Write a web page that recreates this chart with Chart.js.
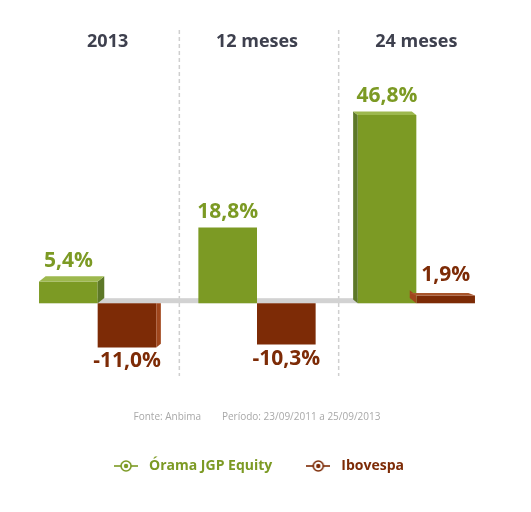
<!DOCTYPE html>
<html>
<head>
<meta charset="utf-8">
<script src="https://cdn.jsdelivr.net/npm/chart.js@4.4.0/dist/chart.umd.min.js"></script>
<style>
html,body{margin:0;padding:0;background:#ffffff;}
#wrap{width:531px;height:512px;position:relative;}
</style>
</head>
<body>
<div id="wrap"><canvas id="c" width="531" height="512"></canvas></div>
<script>
// ---- data ----
const categories = ['2013', '12 meses', '24 meses'];
const seriesNames = ['Órama JGP Equity', 'Ibovespa'];
const oramaValues = [5.4, 18.8, 46.8];
const ibovespaValues = [-11.0, -10.3, 1.9];
const sourceText = 'Fonte: Anbima        Período: 23/09/2011 a 25/09/2013';

// ---- styles ----
const COLORS = [
  {front: '#7c9a24', top: '#9db84e', side: '#5d7828'},
  {front: '#7d2b06', top: '#a9552b', side: '#a0461c'}
];
const FONT = '"Open Sans", "Noto Sans", sans-serif';

function legendSymbol(color) {
  const c = document.createElement('canvas');
  c.width = 24; c.height = 14;
  const g = c.getContext('2d');
  g.strokeStyle = color; g.lineWidth = 1.6;
  g.beginPath(); g.moveTo(0, 7); g.lineTo(24, 7); g.stroke();
  g.fillStyle = '#ffffff';
  g.beginPath(); g.arc(12, 7, 5, 0, Math.PI * 2); g.fill(); g.stroke();
  g.fillStyle = color;
  g.beginPath(); g.arc(12, 7, 2.2, 0, Math.PI * 2); g.fill();
  return c;
}
const symbols = [legendSymbol(COLORS[0].front), legendSymbol(COLORS[1].front)];

function fmt(v) { return v.toFixed(1).replace('.', ',') + '%'; }

const decorPlugin = {
  id: 'decor',
  beforeDatasetsDraw(chart) {
    const ctx = chart.ctx;
    const xs = chart.scales.x;
    const y0 = chart.scales.y.getPixelForValue(0);
    // dashed separators between categories
    ctx.save();
    ctx.strokeStyle = '#cfcfcf';
    ctx.lineWidth = 1.5;
    ctx.setLineDash([4, 3]);
    for (let i = 0; i < categories.length - 1; i++) {
      const x = (xs.getPixelForValue(i) + xs.getPixelForValue(i + 1)) / 2 + 2;
      ctx.beginPath(); ctx.moveTo(x, 30); ctx.lineTo(x, 376); ctx.stroke();
    }
    ctx.restore();
    // category headings
    ctx.save();
    ctx.fillStyle = '#3e404e';
    ctx.font = 'bold 18px ' + FONT;
    ctx.textAlign = 'center'; ctx.textBaseline = 'middle';
    categories.forEach((c, i) => ctx.fillText(c, xs.getPixelForValue(i) + (i === 0 ? 10 : 0), 42));
    ctx.restore();
    // floor band at zero
    const first = chart.getDatasetMeta(0).data[0];
    const last = chart.getDatasetMeta(1).data[categories.length - 1];
    const l = first.x - first.width / 2, r = last.x + last.width / 2;
    ctx.save();
    ctx.fillStyle = '#d2d2d2';
    ctx.fillRect(l, y0 - 5, r - l, 5);
    ctx.restore();
  },
  afterDatasetsDraw(chart) {
    const ctx = chart.ctx;
    const area = chart.chartArea;
    const vx = (area.left + area.right) / 2;
    chart.data.datasets.forEach((ds, di) => {
      const meta = chart.getDatasetMeta(di);
      const col = COLORS[di];
      meta.data.forEach((bar, i) => {
        const v = ds.data[i];
        const l = bar.x - bar.width / 2, r = bar.x + bar.width / 2;
        const top = Math.min(bar.y, bar.base), bot = Math.max(bar.y, bar.base);
        const dx = Math.max(-7, Math.min(7, (vx - bar.x) * 0.035));
        const dy = -Math.abs(dx) * 0.8;
        ctx.save();
        if (Math.abs(dx) > 1.5) {
          const edge = dx > 0 ? r : l;
          ctx.fillStyle = col.side;
          ctx.beginPath();
          if (v >= 0) {
            ctx.moveTo(edge, top); ctx.lineTo(edge + dx, top + dy);
            ctx.lineTo(edge + dx, bot + dy); ctx.lineTo(edge, bot);
          } else {
            ctx.moveTo(edge, top); ctx.lineTo(edge + dx, top);
            ctx.lineTo(edge + dx, bot + dy); ctx.lineTo(edge, bot);
          }
          ctx.closePath(); ctx.fill();
          if (v >= 0) {
            const tdy = Math.max(dy, -(bot - top) * 0.35);
            ctx.fillStyle = col.top;
            ctx.beginPath();
            ctx.moveTo(l, top); ctx.lineTo(l + dx, top + tdy);
            ctx.lineTo(r + dx, top + tdy); ctx.lineTo(r, top);
            ctx.closePath(); ctx.fill();
          }
        }
        // value label
        ctx.fillStyle = col.front;
        ctx.font = 'bold 21px ' + FONT;
        ctx.textAlign = 'center'; ctx.textBaseline = 'middle';
        const ly = v >= 0 ? top + Math.min(dy, 0) - 15 : bot + 14;
        ctx.fillText(fmt(v), bar.x, ly);
        ctx.restore();
      });
    });
  }
};

new Chart(document.getElementById('c'), {
  type: 'bar',
  data: {
    labels: categories,
    datasets: [
      {label: seriesNames[0], data: oramaValues, backgroundColor: COLORS[0].front, borderWidth: 0},
      {label: seriesNames[1], data: ibovespaValues, backgroundColor: COLORS[1].front, borderWidth: 0}
    ]
  },
  options: {
    responsive: false,
    animation: false,
    devicePixelRatio: 1,
    layout: {padding: {top: 62, left: 18, right: 35, bottom: 29}},
    datasets: {bar: {categoryPercentage: 0.736, barPercentage: 1.0}},
    scales: {
      x: {display: false},
      y: {display: false, min: -15, max: 60}
    },
    plugins: {
      tooltip: {enabled: false},
      title: {
        display: true,
        position: 'bottom',
        weight: 500,
        text: sourceText,
        color: '#a8a8a8',
        font: {family: FONT, size: 10, weight: 'normal'},
        padding: {top: 48, bottom: 5.5}
      },
      legend: {
        display: true,
        position: 'bottom',
        weight: 1000,
        labels: {
          usePointStyle: true,
          pointStyleWidth: 32,
          padding: 30,
          font: {family: FONT, size: 14, weight: 'bold'},
          generateLabels(chart) {
            return chart.data.datasets.map((ds, i) => ({
              text: ds.label,
              fillStyle: COLORS[i].front,
              strokeStyle: COLORS[i].front,
              lineWidth: 0,
              pointStyle: symbols[i],
              fontColor: COLORS[i].front,
              hidden: false,
              datasetIndex: i
            }));
          }
        }
      }
    }
  },
  plugins: [decorPlugin]
});
</script>
</body>
</html>
